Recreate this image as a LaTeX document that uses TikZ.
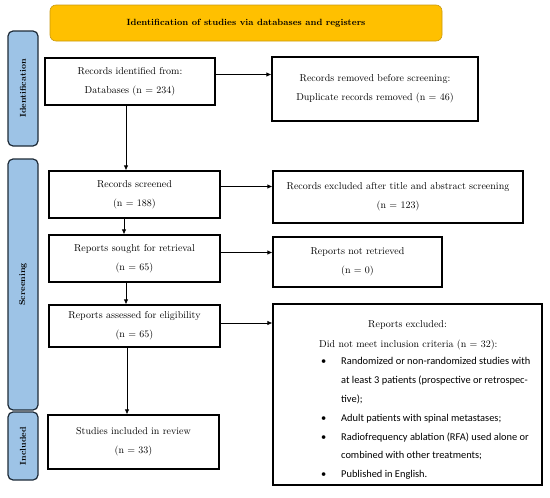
\documentclass[tikz,border=0pt]{standalone}
\usepackage{fontspec}
\newfontfamily\listfont{Carlito}
\usetikzlibrary{arrows.meta}
\definecolor{titleorange}{HTML}{FFC000}
\definecolor{titleedge}{HTML}{C99A10}
\definecolor{phaseblue}{HTML}{9DC3E6}
\definecolor{phaseedge}{HTML}{1E2B38}

\begin{document}
\begin{tikzpicture}[x=1pt, y=-1pt,
    box/.style={draw, line width=1.2pt, align=center, inner sep=0pt, font=\fontsize{10}{19}\selectfont},
    phase/.style={draw=phaseedge, line width=1.2pt, fill=phaseblue, rounded corners=5pt, inner sep=0pt},
    phasetext/.style={rotate=90, font=\bfseries\fontsize{8.5}{10}\selectfont},
    arr/.style={-{Latex[length=5pt,width=4.5pt]}, line width=0.8pt}]
    \useasboundingbox (0,0) rectangle (550,498);

    % Draw header and phases
    \node[draw=titleedge, line width=0.6pt, fill=titleorange, rounded corners=6pt, minimum width=392, minimum height=36, font=\bfseries\fontsize{9}{11}\selectfont] (title) at (246,23) {Identification of studies via databases and registers};
    \node[phase, minimum width=30, minimum height=115] (phaseid) at (23,88.5) {};
    \node[phasetext] (phaseidtext) at (phaseid.center) {Identification};
    \node[phase, minimum width=30, minimum height=251] (phasescr) at (23,284.5) {};
    \node[phasetext] (phasescrtext) at (phasescr.center) {Screening};
    \node[phase, minimum width=30, minimum height=68] (phaseinc) at (23,446) {};
    \node[phasetext] (phaseinctext) at (phaseinc.center) {Included};

    % Draw nodes
    \node[box, minimum width=170, minimum height=47] (ident) at (130,81.5) {Records identified from:\\ Databases (n = 234)};
    \node[box, minimum width=206, minimum height=64] (removed) at (375,89) {Records removed before screening:\\ Duplicate records removed (n = 46)};
    \node[box, minimum width=171, minimum height=47] (screened) at (134.5,194.5) {Records screened\\ (n = 188)};
    \node[box, minimum width=250, minimum height=52] (excluded) at (398,197) {Records excluded after title and abstract screening\\ (n = 123)};
    \node[box, minimum width=171, minimum height=47] (sought) at (134.5,258.5) {Reports sought for retrieval\\ (n = 65)};
    \node[box, minimum width=169, minimum height=50] (notret) at (357.5,262) {Reports not retrieved\\ (n = 0)};
    \node[box, minimum width=171, minimum height=42] (assessed) at (134.5,326) {Reports assessed for eligibility\\ (n = 65)};
    \node[box, minimum width=269, minimum height=181] (repexcl) at (407.5,394.5) {};
    \node[box, draw=none, anchor=north] (repexclhead) at ([yshift=-17pt]repexcl.north) {Reports excluded:};
    \node[anchor=north west, inner sep=0pt, align=left, font=\fontsize{10}{18.9}\selectfont] (criteria) at (319,340) {Did not meet inclusion criteria (n = 32):\\
        {\listfont\fontsize{10.4}{18.9}\selectfont\begin{tabular}{@{\hspace{2pt}}p{20pt}@{}l@{}}
        \textbullet & Randomized or non-randomized studies with\\
                    & at least 3 patients (prospective or retrospec-\\
                    & tive);\\
        \textbullet & Adult patients with spinal metastases;\\
        \textbullet & Radiofrequency ablation (RFA) used alone or\\
                    & combined with other treatments;\\
        \textbullet & Published in English.
        \end{tabular}}};
    \node[box, minimum width=171, minimum height=54] (included) at (133.5,442) {Studies included in review\\ (n = 33)};

    % Draw edges
    \coordinate (spine) at (126,0);
    \draw[arr] ([yshift=7pt]ident.east) -- ([yshift=7pt]ident.east -| removed.west);
    \draw[arr] ([yshift=8pt]screened.east) -- ([yshift=8pt]screened.east -| excluded.west);
    \draw[arr] ([yshift=6pt]sought.east) -- ([yshift=6pt]sought.east -| notret.west);
    \draw[arr] ([yshift=3pt]assessed.east) -- ([yshift=3pt]assessed.east -| repexcl.west);
    \draw[arr] (ident.south -| spine) -- (screened.north -| spine);
    \draw[arr] ([xshift=-2pt]screened.south -| spine) -- ([xshift=-2pt]sought.north -| spine);
    \draw[arr] (sought.south -| spine) -- (assessed.north -| spine);
    \draw[arr] ([xshift=1pt]assessed.south -| spine) -- ([xshift=1pt]included.north -| spine);
\end{tikzpicture}
\end{document}
